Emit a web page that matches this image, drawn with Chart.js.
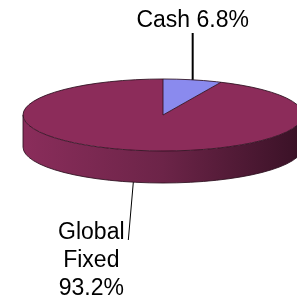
<!DOCTYPE html>
<html>
<head>
<meta charset="utf-8">
<script src="https://cdn.jsdelivr.net/npm/chart.js@4"></script>
<style>
html, body { margin: 0; padding: 0; overflow: hidden; background: #fff; }
#wrap { width: 330px; height: 300px; }
</style>
</head>
<body>
<div id="wrap"><canvas id="pie"></canvas></div>
<script>
const labels = ["Cash", "Global Fixed"];
const values = [6.8, 93.2];
const sliceColors = ["#8a8aee", "#8c2c5a"];

/* where the flattened pie sits on the page */
const CX = 163, CY = 115, RY = 36, DEPTH = 32;
const FONT = "23px 'Liberation Sans', Arial, sans-serif";

function frontRange(s, e) {
    // part of a slice that faces the viewer (canvas angles 0..PI)
    for (const off of [0, -2 * Math.PI, 2 * Math.PI]) {
        const a0 = Math.max(s + off, 0), a1 = Math.min(e + off, Math.PI);
        if (a1 > a0) return [a0, a1];
    }
    return null;
}

const pie3d = {
    id: "pie3d",
    beforeDatasetsDraw(chart) {
        const ctx = chart.ctx;
        const arcs = chart.getDatasetMeta(0).data;
        const { x, y, outerRadius: r } = arcs[0].getProps(["x", "y", "outerRadius"], true);
        const k = RY / r;
        const d = DEPTH / k;
        ctx.save();
        ctx.translate(CX, CY);
        ctx.scale(1, k);
        ctx.translate(-x, -y);

        const grad = ctx.createLinearGradient(x - r, 0, x + r, 0);
        grad.addColorStop(0, "#8a2d5b");
        grad.addColorStop(0.5, "#6c2448");
        grad.addColorStop(0.95, "#3e1329");
        grad.addColorStop(1, "#381124");

        arcs.forEach(a => {
            const p = a.getProps(["startAngle", "endAngle"], true);
            const rng = frontRange(p.startAngle, p.endAngle);
            if (!rng) return;
            ctx.beginPath();
            ctx.arc(x, y + d, r, rng[0], rng[1]);
            ctx.arc(x, y, r, rng[1], rng[0], true);
            ctx.closePath();
            ctx.fillStyle = grad;
            ctx.fill();
        });
        chart.$pie = { x, y, r, d, k };
    },
    afterDatasetsDraw(chart) {
        const ctx = chart.ctx;
        const { x, y, r, d } = chart.$pie;
        const arcs = chart.getDatasetMeta(0).data;
        // outline path built while still scaled, stroked after restore
        ctx.beginPath();
        ctx.arc(x, y, r, 0, 2 * Math.PI);
        ctx.moveTo(x + r, y + d);
        ctx.arc(x, y + d, r, 0, Math.PI);
        ctx.moveTo(x - r, y);
        ctx.lineTo(x - r, y + d);
        arcs.forEach(a => {
            const s = a.getProps(["startAngle"], true).startAngle;
            ctx.moveTo(x, y);
            ctx.lineTo(x + r * Math.cos(s), y + r * Math.sin(s));
        });
        ctx.restore();
        ctx.save();
        ctx.lineWidth = 1;
        ctx.strokeStyle = "rgba(45,15,30,0.85)";
        ctx.stroke();
        ctx.restore();
    },
    afterDraw(chart) {
        const ctx = chart.ctx;
        const arcs = chart.getDatasetMeta(0).data;
        ctx.save();
        ctx.font = FONT;
        ctx.fillStyle = "#000";
        ctx.strokeStyle = "#000";
        ctx.textAlign = "center";

        // Cash label: leader up from the top rim
        let p = arcs[0].getProps(["startAngle", "endAngle", "outerRadius"], true);
        let m = (p.startAngle + p.endAngle) / 2;
        let ax = CX + p.outerRadius * Math.cos(m);
        let ay = CY + RY * Math.sin(m);
        ctx.lineWidth = 2;
        ctx.beginPath();
        ctx.moveTo(ax, ay);
        ctx.lineTo(ax, 33);
        ctx.stroke();
        ctx.fillText(labels[0] + " " + values[0] + "%", ax, 27);

        // Global Fixed label: leader down from the bottom rim
        p = arcs[1].getProps(["startAngle", "endAngle", "outerRadius"], true);
        m = (p.startAngle + p.endAngle) / 2;
        ax = CX + p.outerRadius * Math.cos(m);
        ay = CY + DEPTH + RY * Math.sin(m);
        const ex = ax - 5, ey = 240;
        ctx.lineWidth = 1;
        ctx.beginPath();
        ctx.moveTo(ax, ay);
        ctx.lineTo(ex, ey);
        ctx.stroke();
        const lines = labels[1].split(" ").concat([values[1] + "%"]);
        lines.forEach((t, i) => ctx.fillText(t, ex - 37, 239 + i * 28));
        ctx.restore();
    }
};

new Chart(document.getElementById("pie"), {
    type: "pie",
    data: {
        labels,
        datasets: [{
            data: values,
            backgroundColor: sliceColors,
            borderWidth: 0,
            clip: false
        }]
    },
    options: {
        responsive: true,
        maintainAspectRatio: false,
        animation: false,
        layout: { padding: { left: 23, right: 27, top: 10, bottom: 10 } },
        plugins: { legend: { display: false }, tooltip: { enabled: false } }
    },
    plugins: [pie3d]
});
</script>
</body>
</html>
